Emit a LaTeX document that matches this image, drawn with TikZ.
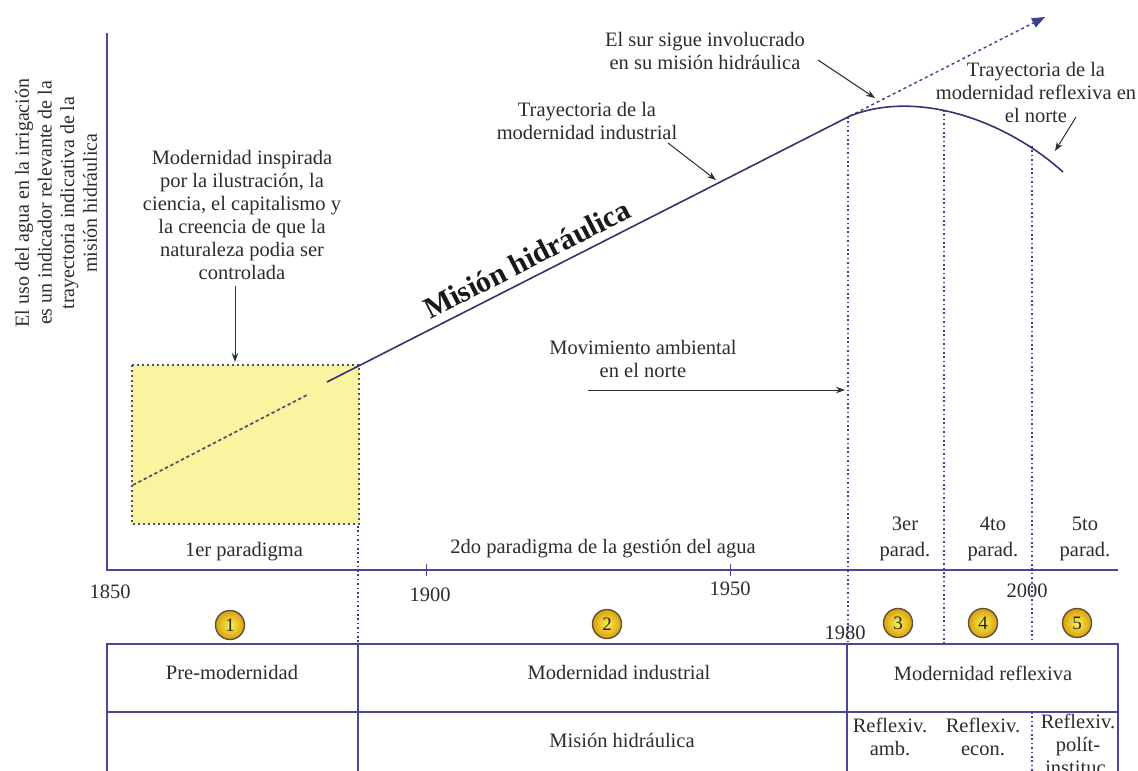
\documentclass[tikz,border=0pt]{standalone}
\usepackage{fontspec}
\setmainfont{Liberation Serif}
\usetikzlibrary{arrows.meta}
\definecolor{axc}{RGB}{72,72,150}
\definecolor{trc}{RGB}{52,52,112}
\definecolor{dotc}{RGB}{62,62,145}
\definecolor{boxfill}{RGB}{250,244,160}
\definecolor{boxrim}{RGB}{78,78,105}
\definecolor{txtc}{RGB}{45,45,45}
\definecolor{goldin}{RGB}{255,238,80}
\definecolor{goldout}{RGB}{215,160,15}
\definecolor{goldrim}{RGB}{100,80,55}
\tikzset{
 txt/.style={font=\fontsize{20.5}{23}\selectfont, text=txtc, align=center, inner sep=0pt},
 axisln/.style={draw=axc, line width=1.4pt},
 vdot/.style={draw=dotc, line width=1.3pt, dash pattern=on 1.6pt off 2.8pt},
 ptr/.style={draw=txtc, line width=1pt, -{Stealth[length=9pt,width=6.5pt]}},
 numc/.style={circle, minimum size=29pt, inner sep=0pt, draw=goldrim, line width=1.4pt,
   inner color=goldin, outer color=goldout, font=\fontsize{19}{19}\selectfont, text=black!85},
}
\begin{document}
\begin{tikzpicture}[x=1pt,y=-1pt]
\useasboundingbox (0,0) rectangle (1138,771);
\clip (0,0) rectangle (1138,771);
\fill[white] (0,0) rectangle (1138,771);
% coordinates
\coordinate (O) at (107,570);
\coordinate (Ytop) at (107,33);
\coordinate (Xend) at (1118,570);
\coordinate (bxA) at (132,365);
\coordinate (bxB) at (359,524);
\coordinate (d0) at (133,485);
\coordinate (d1) at (307,395);
\coordinate (m0) at (327,382);
\coordinate (m1) at (850,116);
\coordinate (m2) at (1063,172);
\coordinate (dend) at (1045,17);
% yellow box
\fill[boxfill] (bxA) rectangle (bxB);
\draw[draw=boxrim, line width=1.7pt, dash pattern=on 3.4pt off 2.6pt] (d0) -- (d1);
\draw[draw=boxrim, line width=2.3pt, dash pattern=on 2pt off 3pt] (bxA) rectangle (bxB);
% axes
\draw[axisln] (Ytop) -- (O) -- (Xend);
\coordinate (t1a) at (426,564); \coordinate (t1b) at (426,576);
\coordinate (t2a) at (730,564); \coordinate (t2b) at (730,576);
\draw[axisln, line width=1pt] (t1a) -- (t1b);
\draw[axisln, line width=1pt] (t2a) -- (t2b);
% vertical dotted lines
\coordinate (v0a) at (358,526); \coordinate (v0b) at (358,644);
\coordinate (v1a) at (848,117); \coordinate (v1b) at (848,644);
\coordinate (v2a) at (944,110); \coordinate (v2b) at (944,644);
\coordinate (v3a) at (1032,146); \coordinate (v3b) at (1032,644);
\coordinate (v3c) at (1032,712); \coordinate (v3d) at (1032,780);
\draw[vdot] (v0a) -- (v0b);
\draw[vdot] (v1a) -- (v1b);
\draw[vdot] (v2a) -- (v2b);
\draw[vdot] (v3a) -- (v3b);
\draw[vdot] (v3c) -- (v3d);
% trajectory
\draw[draw=trc, line width=1.6pt] (m0) -- (m1) .. controls (915,90) and (1003,118) .. (m2);
\draw[draw=dotc, line width=1.4pt, dash pattern=on 3pt off 3pt, -{Triangle[length=13pt,width=10pt]}] (m1) -- (dend);
% table
\coordinate (tbA) at (107,644); \coordinate (tbB) at (1118,644);
\coordinate (tbC) at (107,712); \coordinate (tbD) at (1118,712);
\coordinate (tbE) at (107,790); \coordinate (tbF) at (1118,790);
\coordinate (tbG) at (358,644); \coordinate (tbH) at (358,790);
\coordinate (tbI) at (847,644); \coordinate (tbJ) at (847,790);
\draw[axisln, line width=1.3pt] (tbE) -- (tbA) -- (tbB) -- (tbF);
\draw[axisln, line width=1.3pt] (tbC) -- (tbD);
\draw[axisln, line width=1.3pt] (tbG) -- (tbH);
\draw[axisln, line width=1.3pt] (tbI) -- (tbJ);
% y label
\node[txt, rotate=90, font=\fontsize{20}{22.7}\selectfont] (ylab) at (56,203) {El uso del agua en la irrigación\\es un indicador relevante de la\\trayectoria indicativa de la\\misión hidráulica};
% year labels
\node[txt] (y1850) at (110,592) {1850};
\node[txt] (y1900) at (430,595) {1900};
\node[txt] (y1950) at (730,589) {1950};
\node[txt] (y2000) at (1027,591) {2000};
\node[txt] (y1980) at (845,633) {1980};
% paradigm labels
\node[txt] (p1) at (244,552) {1er paradigma};
\node[txt] (p2) at (603,549) {2do paradigma de la gestión del agua};
\node[txt, font=\fontsize{20.5}{26}\selectfont] (p3) at (905,539) {3er\\parad.};
\node[txt, font=\fontsize{20.5}{26}\selectfont] (p4) at (993,539) {4to\\parad.};
\node[txt, font=\fontsize{20.5}{26}\selectfont] (p5) at (1085,539) {5to\\parad.};
% circles
\node[numc] (c1) at (230,625) {1};
\node[numc] (c2) at (607,624) {2};
\node[numc] (c3) at (898,623) {3};
\node[numc] (c4) at (983,623) {4};
\node[numc] (c5) at (1077,623) {5};
% table texts
\node[txt] (premod) at (232,672) {Pre-modernidad};
\node[txt] (modind) at (619,672) {Modernidad industrial};
\node[txt] (modref) at (983,673) {Modernidad reflexiva};
\node[txt] (mishid) at (622,740) {Misión hidráulica};
\node[txt] (ramb) at (890,737) {Reflexiv.\\amb.};
\node[txt] (recon) at (983,737) {Reflexiv.\\econ.};
\node[txt] (rpol) at (1078,744) {Reflexiv.\\polít-\\instituc.};
% annotations
\node[txt] (insp) at (242,215) {Modernidad inspirada\\por la ilustración, la\\ciencia, el capitalismo y\\la creencia de que la\\naturaleza podia ser\\controlada};
\coordinate (a1s) at (235,286); \coordinate (a1e) at (235,362);
\draw[ptr] (a1s) -- (a1e);
\node[font=\bfseries\fontsize{30}{30}\selectfont, text=black!90, rotate=27, inner sep=0pt] (mhbig) at (527,259) {Misión hidráulica};
\node[txt] (trind) at (587,121) {Trayectoria de la\\modernidad industrial};
\coordinate (a2s) at (668,143); \coordinate (a2e) at (716,180);
\draw[ptr] (a2s) -- (a2e);
\node[txt] (sur) at (705,51) {El sur sigue involucrado\\en su misión hidráulica};
\coordinate (a3s) at (818,60); \coordinate (a3e) at (875,98);
\draw[ptr] (a3s) -- (a3e);
\node[txt] (trref) at (1036,92) {Trayectoria de la\\modernidad reflexiva en\\el norte};
\coordinate (a4s) at (1076,117); \coordinate (a4e) at (1055,151);
\draw[ptr] (a4s) -- (a4e);
\node[txt] (movamb) at (643,359) {Movimiento ambiental\\en el norte};
\coordinate (a5s) at (588,390); \coordinate (a5e) at (845,390);
\draw[ptr] (a5s) -- (a5e);
\end{tikzpicture}
\end{document}
